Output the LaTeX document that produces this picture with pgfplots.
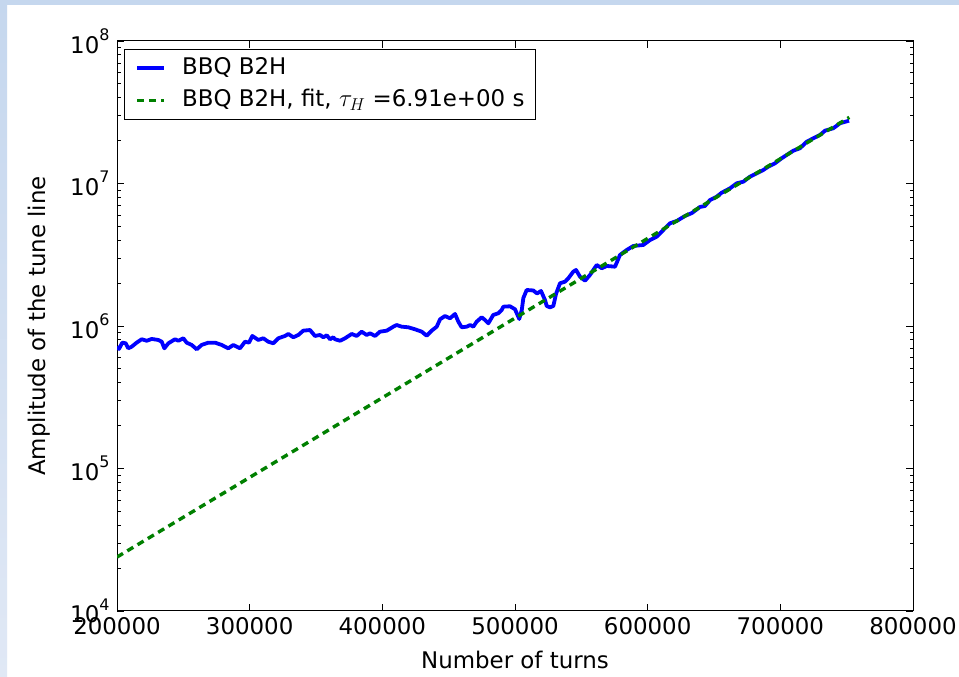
\documentclass[border=0pt]{standalone}
\usepackage{fontspec}
\setmainfont{DejaVu Sans}
\usepackage{pgfplots}
\usepackage{pgfplotstable}
\pgfplotsset{compat=1.18}

\definecolor{slideblue}{RGB}{197,215,238}
\definecolor{slidebluelight}{RGB}{224,232,245}
\definecolor{mplblue}{RGB}{0,0,255}
\definecolor{mplgreen}{RGB}{0,128,0}

\newcommand{\chartfont}{\fontsize{23}{27}\selectfont}
\newcommand{\pw}[1]{10\raisebox{0.55em}{\fontsize{16}{16}\selectfont #1}}

% BBQ B2H tune-line amplitude versus turn number
\pgfplotstableread{
turns amp
200000 7.16e5
201500 6.90e5
204000 7.64e5
206600 7.56e5
208500 6.97e5
211100 7.16e5
214800 7.64e5
218600 8.07e5
222400 7.88e5
226200 8.11e5
231100 7.98e5
233700 7.76e5
235700 6.97e5
238700 7.56e5
243700 8.07e5
246200 7.88e5
250000 8.20e5
252500 7.64e5
256300 7.36e5
260100 6.86e5
263800 7.36e5
268800 7.64e5
273900 7.64e5
278900 7.36e5
283900 6.97e5
287700 7.36e5
292700 6.97e5
296500 7.76e5
299500 7.64e5
302000 8.51e5
306500 7.98e5
310300 8.20e5
314000 7.76e5
317800 7.56e5
321600 8.20e5
326600 8.51e5
329100 8.79e5
332900 8.33e5
336700 8.65e5
340400 9.27e5
345500 9.37e5
349200 8.51e5
353000 8.65e5
355500 8.33e5
358100 8.60e5
360600 8.07e5
363000 8.33e5
364300 8.07e5
368100 7.88e5
371900 8.20e5
376900 8.79e5
380700 8.51e5
384400 9.12e5
388200 8.65e5
390700 8.89e5
394500 8.51e5
398200 9.12e5
403300 9.27e5
408300 9.89e5
410800 1.016e6
414600 9.89e5
419600 9.79e5
424600 9.48e5
429700 9.12e5
433400 8.55e5
437200 9.27e5
441000 9.89e5
443500 1.114e6
447200 1.175e6
451000 1.132e6
454800 1.214e6
457300 1.072e6
459800 9.79e5
463600 9.89e5
466100 1.016e6
468600 9.89e5
471100 1.072e6
474900 1.151e6
477400 1.102e6
479900 1.044e6
483600 1.195e6
487400 1.228e6
490000 1.295e6
491200 1.366e6
496200 1.375e6
500000 1.310e6
503200 1.120e6
505100 1.295e6
506300 1.572e6
508800 1.789e6
513800 1.775e6
516600 1.691e6
519600 1.761e6
522600 1.522e6
523900 1.381e6
526400 1.352e6
528900 1.381e6
530900 1.677e6
533900 1.994e6
537700 2.046e6
540200 2.161e6
543900 2.405e6
546000 2.472e6
549000 2.218e6
552800 2.079e6
556500 2.280e6
561600 2.680e6
565400 2.540e6
569100 2.637e6
575400 2.607e6
579100 3.150e6
584200 3.415e6
589200 3.643e6
596700 3.702e6
601800 4.013e6
606800 4.233e6
611800 4.717e6
616800 5.257e6
621900 5.455e6
628100 5.914e6
633400 6.209e6
639400 6.842e6
643200 6.953e6
647000 7.660e6
652000 8.080e6
655800 8.616e6
662100 9.254e6
667100 1.003e7
672100 1.029e7
677100 1.116e7
682200 1.179e7
687200 1.244e7
690900 1.312e7
696000 1.386e7
701000 1.502e7
704800 1.585e7
709800 1.699e7
714800 1.766e7
719900 1.965e7
724900 2.076e7
729900 2.190e7
733700 2.348e7
739900 2.440e7
745000 2.646e7
751800 2.759e7
}\bbqdata

% exponential fit, tau_H = 6.91 s (straight on the log axis)
\pgfplotstableread{
turns amp
200000 2.39e4
752000 2.91e7
}\fitdata

\begin{document}
\begin{tikzpicture}[x=1bp,y=1bp]
\fill[white] (0,0) rectangle (959,677);
\shade[top color=slideblue, bottom color=slidebluelight] (0,0) rectangle (7,677);
\fill[slideblue] (0,672) rectangle (959,677);
\begin{axis}[
  at={(117bp,66bp)}, anchor=south west,
  scale only axis, width=796bp, height=570bp,
  ymode=log,
  xmin=200000, xmax=800000, ymin=1e4, ymax=1e8,
  scaled x ticks=false,
  xtick={200000,300000,400000,500000,600000,700000,800000},
  xticklabels={200000,300000,400000,500000,600000,700000,800000},
  ytick={1e4,1e5,1e6,1e7,1e8},
  yticklabels={\pw{4},\pw{5},\pw{6},\pw{7},\pw{8}},
  ticklabel style={font=\chartfont},
  xticklabel style={yshift=-3bp},
  yticklabel style={xshift=-4bp},
  tick align=inside,
  tick style={black, line width=0.8bp},
  major tick length=7bp, minor tick length=3.5bp,
  axis line style={black, line width=1bp},
  xlabel={Number of turns},
  ylabel={Amplitude of the tune line},
  label style={font=\chartfont},
  xlabel style={yshift=-9bp},
  ylabel style={yshift=13bp},
  legend cell align=left,
  legend style={at={(0,1)}, anchor=north west, xshift=7bp, yshift=-8bp,
    draw=black, line width=0.8bp, fill=white, font=\chartfont,
    inner xsep=11bp, inner ysep=8bp, row sep=10bp, column sep=16bp,
    nodes={inner sep=0pt, text height=17bp, text depth=5bp}},
  legend image code/.code={\draw[#1] (0bp,0bp) -- (27bp,0bp);},
]
\addplot[mplblue, line width=3.8bp, line join=round] table[x=turns, y=amp] {\bbqdata};
\addlegendentry{BBQ B2H}
\addplot[mplgreen, line width=3.4bp, dash pattern=on 7bp off 5bp] table[x=turns, y=amp] {\fitdata};
\addlegendentry{BBQ B2H, fit, $\tau_H$ =6.91e+00 s}
\end{axis}
\pgfresetboundingbox
\path[use as bounding box] (0,0) rectangle (959,677);
\end{tikzpicture}
\end{document}
